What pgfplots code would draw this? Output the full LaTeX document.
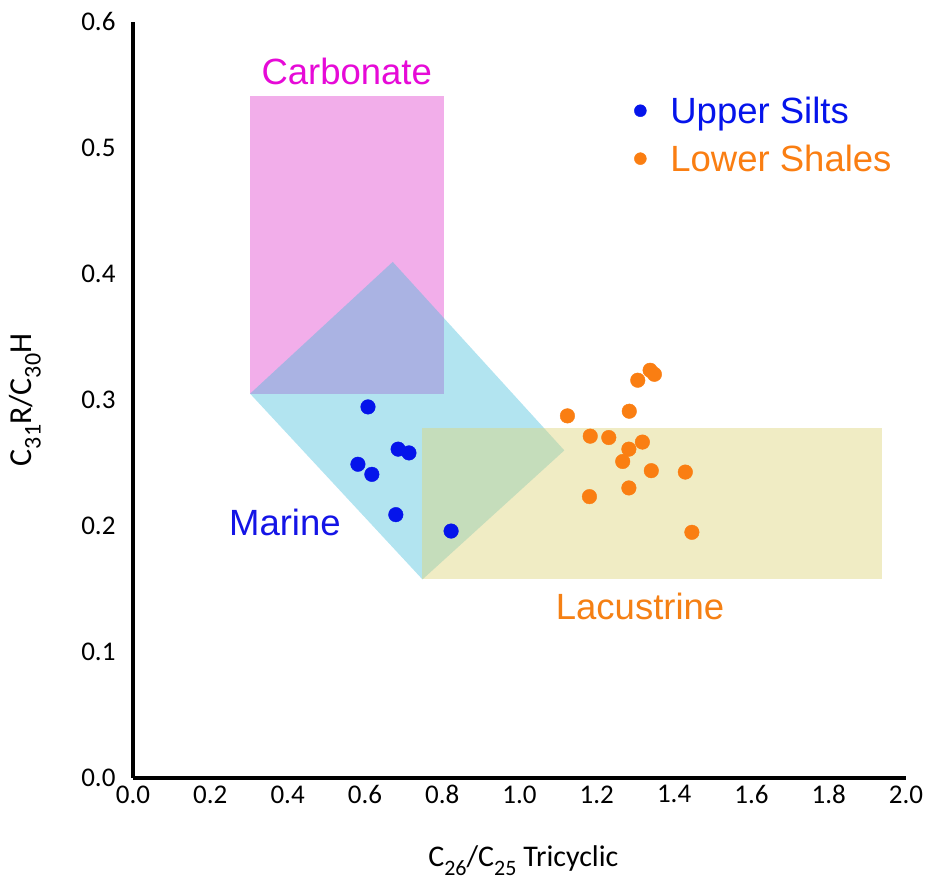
\documentclass[border=0pt]{standalone}
\usepackage{fontspec}
\setmainfont{Carlito}
\newfontfamily\arial{Liberation Sans}
\usepackage{pgfplots}
\pgfplotsset{compat=1.18}

\definecolor{carbfill}{RGB}{242,174,234}
\definecolor{marfill}{RGB}{62,187,218}
\definecolor{lacfill}{RGB}{222,213,124}
\definecolor{carbtext}{RGB}{230,10,215}
\definecolor{martext}{RGB}{20,20,230}
\definecolor{lactext}{RGB}{245,128,20}
\definecolor{silts}{RGB}{5,20,235}
\definecolor{shales}{RGB}{250,126,18}

% lowered subscript as used in the axis titles
\newcommand\sub[2][22]{\raisebox{-0.3em}{\fontsize{#1}{#1}\selectfont #2}}

\begin{document}
\begin{tikzpicture}
\useasboundingbox (0,0) rectangle (925pt,890pt);
\begin{axis}[
  at={(133pt,112pt)}, anchor=south west,
  scale only axis, width=773pt, height=756pt,
  xmin=0, xmax=2.0, ymin=0, ymax=0.6,
  axis x line=bottom, axis y line=left,
  axis line style={-, line width=3.2pt, black},
  major tick length=0pt,
  xtick={0,0.2,...,2.0}, ytick={0,0.1,...,0.6},
  /pgf/number format/assume math mode=true,
  /pgf/number format/.cd, fixed, fixed zerofill, precision=1, /pgfplots/.cd,
  tick label style={font=\fontsize{27}{30}\selectfont},
  yticklabel style={xshift=-14pt},
  xticklabel style={yshift=-4pt},
  xlabel={C\sub{26}/C\sub{25} Tricyclic},
  ylabel={C\sub[24]{31}R/C\sub[24]{30}H},
  xlabel style={font=\fontsize{30}{32}\selectfont,
    at={(axis description cs:0.505,-0.11)}, anchor=center},
  ylabel style={font=\fontsize{32}{34}\selectfont,
    at={(axis description cs:-0.14,0.5)}, anchor=center},
  legend style={draw=none, fill=none, at={(axis cs:1.232,0.544)}, anchor=north west,
    font=\arial\fontsize{36.5}{42}\selectfont, row sep=16pt},
  legend cell align=left,
  legend image code/.code={%
    \path[draw=none, fill=none] (0pt,-6pt) rectangle (56pt,6pt);
    \draw[mark repeat=2, mark phase=2, #1, mark size=6pt]
      plot coordinates {(0pt,0pt) (28pt,0pt) (56pt,0pt)};},
]
% source-rock fields
\addplot[fill=carbfill, draw=none, forget plot] coordinates
  {(0.303,0.305) (0.805,0.305) (0.805,0.541) (0.303,0.541)} -- cycle;
\addplot[fill=marfill, fill opacity=0.4, draw=none, forget plot] coordinates
  {(0.303,0.305) (0.672,0.4096) (1.116,0.260) (0.749,0.1576)} -- cycle;
\addplot[fill=lacfill, fill opacity=0.45, draw=none, forget plot] coordinates
  {(0.749,0.1576) (1.938,0.1576) (1.938,0.278) (0.749,0.278)} -- cycle;

% samples
\addplot[only marks, mark=*, mark size=7.3pt, color=silts] table {
x y
0.608 0.2945
0.686 0.261
0.714 0.258
0.582 0.249
0.618 0.241
0.680 0.209
0.823 0.196
};
\addlegendentry{\textcolor{silts}{Upper Silts}}
\addplot[only marks, mark=*, mark size=7.3pt, color=shales] table {
x y
1.338 0.3236
1.349 0.3204
1.306 0.3157
1.124 0.2874
1.284 0.2911
1.183 0.2713
1.231 0.2702
1.318 0.2666
1.283 0.2610
1.267 0.2512
1.341 0.2439
1.429 0.2428
1.283 0.2302
1.181 0.2233
1.446 0.1950
};
\addlegendentry{\textcolor{shales}{Lower Shales}}

% field names
\node[font=\arial\fontsize{36.5}{40}\selectfont, text=carbtext] at (axis cs:0.553,0.561) {Carbonate};
\node[font=\arial\fontsize{36.5}{40}\selectfont, text=martext] at (axis cs:0.393,0.203) {Marine};
\node[font=\arial\fontsize{36.5}{40}\selectfont, text=lactext] at (axis cs:1.312,0.1365) {Lacustrine};
\end{axis}
\end{tikzpicture}
\end{document}
